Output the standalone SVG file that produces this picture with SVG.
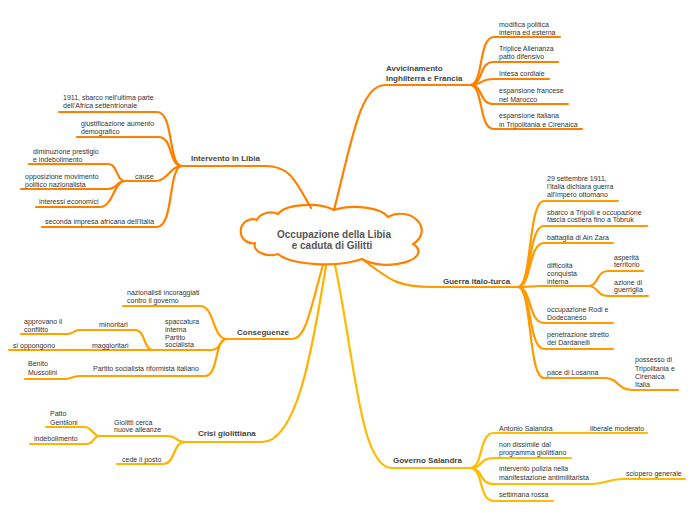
<svg xmlns="http://www.w3.org/2000/svg" width="696" height="520" viewBox="0 0 696 520">
<style>
text{font-family:"Liberation Sans",Arial,sans-serif;font-size:7px;fill:#333}
.b{font-weight:bold;font-size:8px;fill:#444}
.c{font-weight:bold;font-size:10px;fill:#555;text-anchor:middle}
path{fill:none;stroke-linecap:round;stroke-linejoin:round}
.o1{stroke:#FF8000;stroke-width:2.2}
.o2{stroke:#FF9A00;stroke-width:2.2}
.o3{stroke:#FFA200;stroke-width:2.2}
.o4{stroke:#FFB400;stroke-width:2.2}
.o5{stroke:#FFBB00;stroke-width:2.2}
</style>
<rect width="696" height="520" fill="#fff"/>
<g id="connectors">
<path class="o1" d="M334,210 C352,140 360,85 385,85 L470,85"/>
<path class="o1" d="M311,208 C295,180 290,166 265,166 L182,166"/>
<path class="o2" d="M362,259 C392,282 400,287 432,287 L518,287"/>
<path class="o3" d="M323,265 C310,310 306,339 292,339 L227,339"/>
<path class="o4" d="M326,266 C315,330 300,442 262,442 L185,442"/>
<path class="o5" d="M335,265 C355,360 360,468 392,468 L470,468"/>
<path class="o1" d="M470,85 C484,85 478,37 494,37 L560,37"/>
<path class="o1" d="M470,85 C484,85 478,62 494,62 L558,62"/>
<path class="o1" d="M470,85 C484,85 478,79 494,79 L549,79"/>
<path class="o1" d="M470,85 C484,85 478,104 494,104 L568,104"/>
<path class="o1" d="M470,85 C484,85 478,129 494,129 L582,129"/>
<path class="o1" d="M182,166 C168,166 174,112 157,112 L59,112"/>
<path class="o1" d="M182,166 C168,166 174,137 158,137 L77,137"/>
<path class="o1" d="M182,166 C170,166 168,181 155,181 L125,181"/>
<path class="o1" d="M182,166 C168,166 174,227 157,227 L42,227"/>
<path class="o1" d="M125,181 C116,181 118,164 108,164 L29,164"/>
<path class="o1" d="M125,181 C116,181 118,189 108,189 L21,189"/>
<path class="o1" d="M125,181 C114,181 113,207 100,207 L36,207"/>
<path class="o2" d="M518,287 C532,287 528,201 544,201 L618,201"/>
<path class="o2" d="M518,287 C532,287 528,226 544,226 L647,226"/>
<path class="o2" d="M518,287 C532,287 528,243 544,243 L613,243"/>
<path class="o2" d="M518,287 C530,287 530,286 542,286 L588,286"/>
<path class="o2" d="M588,286 C599,286 596,271 608,271 L643,271"/>
<path class="o2" d="M588,286 C599,286 596,296 608,296 L648,296"/>
<path class="o2" d="M518,287 C532,287 528,323 544,323 L613,323"/>
<path class="o2" d="M518,287 C532,287 528,349 544,349 L613,349"/>
<path class="o2" d="M518,287 C532,287 528,378 544,378 L605,378 C618,378 618,390 632,390 L678,390"/>
<path class="o3" d="M227,339 C212,339 215,306 200,306 L123,306"/>
<path class="o3" d="M227,339 C218,339 222,350 211,350 L9,350"/>
<path class="o3" d="M153,350 C143,350 146,330 135,330 L80,330 C72,330 75,334 67,334 L21,334"/>
<path class="o3" d="M227,339 C214,339 219,376 205,376 L80,376 C72,376 72,379 63,379 L25,379"/>
<path class="o4" d="M185,442 C175,442 178,436 167,436 L100,436"/>
<path class="o4" d="M100,436 C92,436 93,427 84,427 L46,427"/>
<path class="o4" d="M100,436 C92,436 95,444 86,444 L30,444"/>
<path class="o4" d="M185,442 C172,442 176,464 163,464 L117,464"/>
<path class="o5" d="M470,468 C484,468 478,433 494,433 L647,433"/>
<path class="o5" d="M470,468 C484,468 478,458 494,458 L571,458"/>
<path class="o5" d="M470,468 C484,468 478,484 494,484 L593,484 C606,484 608,479 622,479 L685,479"/>
<path class="o5" d="M470,468 C484,468 478,501 494,501 L553,501"/>
</g>
<g id="center">
<path d="M257,220 A14,10 0 0 1 278,214 A32,13 0 0 1 334,210 A34,14 0 0 1 388,217 A19,15 0 0 1 413,244 A28,12 0 0 1 362,259 A50,16 0 0 1 278,254 A16,10 0 0 1 255,243 A12,12 0 1 1 257,220 Z" fill="#fff" stroke="#FF8000" stroke-width="2.2"/>
<text class="c" x="334" y="238">Occupazione della Libia</text>
<text class="c" x="332" y="249">e caduta di Gilitti</text>
</g>
<g id="avvicinamento">
<text class="b" x="386" y="71">Avvicinamento</text>
<text class="b" x="386" y="81">Inghilterra e Francia</text>
</g>
<g id="avv-1"><text x="499" y="26.5">modifica politica</text><text x="499" y="34.5">interna ed esterna</text></g>
<g id="avv-2"><text x="499" y="51">Triplice Allenanza</text><text x="499" y="59">patto difensivo</text></g>
<g id="avv-3"><text x="499" y="76">Intesa cordiale</text></g>
<g id="avv-4"><text x="499" y="93">espansione francese</text><text x="499" y="101.5">nel Marocco</text></g>
<g id="avv-5"><text x="499" y="118">espansione italiana</text><text x="499" y="126.5">in Tripolitania e Cirenaica</text></g>

<g id="intervento"><text class="b" x="191" y="161">Intervento in Libia</text></g>
<g id="int-1"><text x="63" y="99.5">1911, sbarco nell'ultima parte</text><text x="63" y="107.5">dell'Africa settentrionale</text></g>
<g id="int-2"><text x="81" y="125.5">giustificazione aumento</text><text x="81" y="133.5">demografico</text></g>
<g id="cause"><text x="135" y="178.5">cause</text></g>
<g id="cause-1"><text x="33" y="153.5">diminuzione prestigio</text><text x="33" y="161.5">e indebolimento</text></g>
<g id="cause-2"><text x="25" y="178.5">opposizione movimento</text><text x="25" y="186.5">politico nazionalista</text></g>
<g id="cause-3"><text x="39" y="203.5">interessi economici</text></g>
<g id="int-3"><text x="45" y="223.5">seconda impresa africana dell'Italia</text></g>

<g id="guerra"><text class="b" x="443" y="284">Guerra italo-turca</text></g>
<g id="g-1"><text x="547" y="180.5">29 settembre 1911,</text><text x="547" y="188.5">l'Italia dichiara guerra</text><text x="547" y="196.5">all'impero ottomano</text></g>
<g id="g-2"><text x="547" y="214.5">sbarco a Tripoli e occupazione</text><text x="547" y="222">fascia costiera fino a Tobruk</text></g>
<g id="g-3"><text x="547" y="239.5">battaglia di Ain Zara</text></g>
<g id="g-4"><text x="547" y="267.5">difficoltà</text><text x="547" y="275.5">conquista</text><text x="547" y="283.5">interna</text></g>
<g id="g-4a"><text x="614" y="259.5">asperità</text><text x="614" y="267">territorio</text></g>
<g id="g-4b"><text x="614" y="284.5">azione di</text><text x="614" y="292">guerriglia</text></g>
<g id="g-5"><text x="547" y="311.5">occupazione Rodi e</text><text x="547" y="320">Dodecaneso</text></g>
<g id="g-6"><text x="547" y="336.5">penetrazione stretto</text><text x="547" y="344.5">dei Dardanelli</text></g>
<g id="g-7"><text x="547" y="374.5">pace di Losanna</text></g>
<g id="g-7a"><text x="635" y="361.5">possesso di</text><text x="635" y="370.5">Tripolitania e</text><text x="635" y="379">Cirenaica</text><text x="635" y="387">Italia</text></g>

<g id="conseguenze"><text class="b" x="237" y="335">Conseguenze</text></g>
<g id="c-1"><text x="127" y="294.5">nazionalisti incoraggiati</text><text x="127" y="303">contro il governo</text></g>
<g id="c-2"><text x="165" y="323.5">spaccatura</text><text x="165" y="331.5">interna</text><text x="165" y="339.5">Partito</text><text x="165" y="347">socialista</text></g>
<g id="c-2a"><text x="99" y="326.5">minoritari</text></g>
<g id="c-2a1"><text x="24" y="323.5">approvano il</text><text x="24" y="331.5">conflitto</text></g>
<g id="c-2b"><text x="92" y="347.5">maggioritari</text></g>
<g id="c-2b1"><text x="13" y="347.5">si oppongono</text></g>
<g id="c-3"><text x="93" y="371">Partito socialista riformista italiano</text></g>
<g id="c-3a"><text x="28" y="366">Benito</text><text x="28" y="375">Mussolini</text></g>

<g id="crisi"><text class="b" x="198" y="436">Crisi giolittiana</text></g>
<g id="cr-1"><text x="114" y="424.5">Giolitti cerca</text><text x="114" y="432">nuove alleanze</text></g>
<g id="cr-1a"><text x="50" y="416">Patto</text><text x="50" y="424.5">Gentiloni</text></g>
<g id="cr-1b"><text x="34" y="440.5">indebolimento</text></g>
<g id="cr-2"><text x="122" y="461.5">cede il posto</text></g>

<g id="governo"><text class="b" x="393" y="463">Governo Salandra</text></g>
<g id="gs-1"><text x="499" y="430.5">Antonio Salandra</text></g>
<g id="gs-1a"><text x="590" y="430.5">liberale moderato</text></g>
<g id="gs-2"><text x="499" y="446.5">non dissimile dal</text><text x="499" y="454.5">programma giolittiano</text></g>
<g id="gs-3"><text x="499" y="470.5">intervento polizia nella</text><text x="499" y="479.5">manifestazione antimilitarista</text></g>
<g id="gs-3a"><text x="626" y="475.5">sciopero generale</text></g>
<g id="gs-4"><text x="499" y="496.5">settimana rossa</text></g>
</svg>
